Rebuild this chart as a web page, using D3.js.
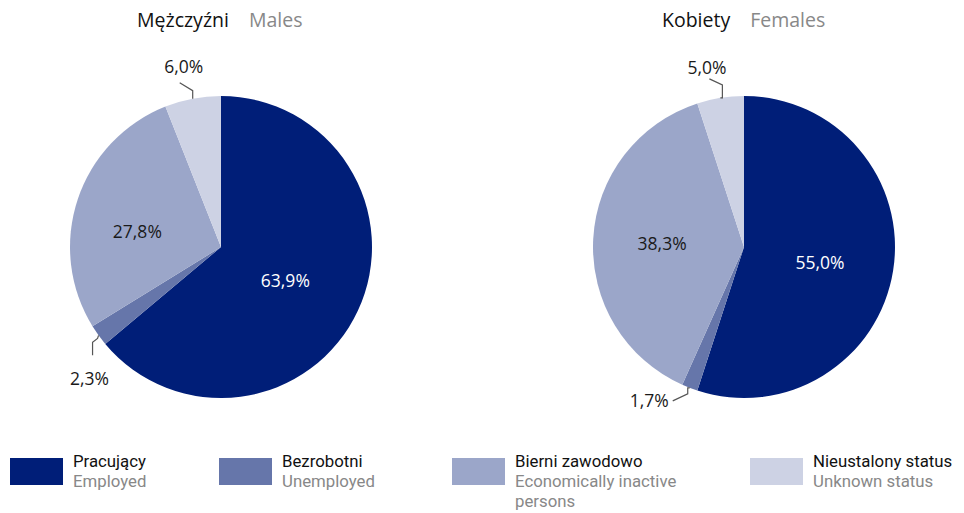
<!DOCTYPE html>
<html><head><meta charset="utf-8">
<script src="https://cdn.jsdelivr.net/npm/d3@7"></script>
<style>
body{margin:0;background:#fff;}
svg text{font-family:"Open Sans",sans-serif;}
svg text.leg{font-family:Roboto,sans-serif;}
</style></head>
<body><svg id="c" width="964" height="513"></svg>
<script>
const categoriesPl = ["Pracujący","Bezrobotni","Bierni zawodowo","Nieustalony status"];
const categoriesEn = ["Employed","Unemployed","Economically inactive persons","Unknown status"];
const malesValues = [63.9, 2.3, 27.8, 6.0];
const femalesValues = [55.0, 1.7, 38.3, 5.0];
const chartTitlesPl = ["Mężczyźni","Kobiety"];
const chartTitlesEn = ["Males","Females"];
const colors = ["#001E78","#6676AA","#9BA6C9","#CDD2E4"];

const svg = d3.select("#c");
const R = 151;
const fmt = v => v.toFixed(1).replace(".", ",") + "%";
const color = d3.scaleOrdinal().domain(categoriesPl).range(colors);
const pie = d3.pie().sort(null).value(d => d.v);
const arc = d3.arc().innerRadius(0).outerRadius(R);
const PF = 17.5;

// label placement styles: inside labels (radius + shift), leader labels (elbow path + text offset)
const charts = [
  {cx:221, cy:247, vals:malesValues, title:0, tx:137,
   inside:{0:{r:71, dx:0, dy:4}, 2:{r:85, dx:-3, dy:12}},
   leader:{1:{path:[[-1,3],[-6,7],[-6,20]], tdx:-9, tdy:43}, 3:{path:[[0,-8],[-13,-16]], tdx:-9, tdy:-31.5}}},
  {cx:744, cy:247, vals:femalesValues, title:1, tx:662,
   inside:{0:{r:77, dx:0, dy:4}, 2:{r:82, dx:0, dy:1}},
   leader:{1:{path:[[-2,0],[-2,6],[-17,13]], tdx:-40.5, tdy:13}, 3:{path:[[2,0],[2,-13],[-11,-19]], tdx:-13.5, tdy:-30}}}
];

charts.forEach(ch => {
  const g = svg.append("g").attr("transform", `translate(${ch.cx},${ch.cy})`);
  const data = categoriesPl.map((c,i) => ({c, v: ch.vals[i], i}));
  const arcs = pie(data);
  g.selectAll("path.s").data(arcs).join("path").attr("class","s")
    .attr("d", arc).attr("fill", d => color(d.data.c));
  arcs.forEach(a => {
    const mid = (a.startAngle + a.endAngle)/2;
    const i = a.data.i;
    let x, y;
    if (ch.leader[i]) {
      const px = Math.sin(mid)*R, py = -Math.cos(mid)*R;
      const L = ch.leader[i];
      const pts = [[px,py]].concat(L.path.map(p => [px+p[0], py+p[1]]));
      g.append("path").attr("d", d3.line()(pts)).attr("fill","none")
        .attr("stroke","#555").attr("stroke-width",1.2);
      x = px + L.tdx; y = py + L.tdy;
    } else {
      const s = ch.inside[i];
      x = Math.sin(mid)*s.r + s.dx; y = -Math.cos(mid)*s.r + s.dy;
    }
    g.append("text").attr("x", x).attr("y", y + PF*0.357)
      .attr("text-anchor","middle")
      .attr("font-size",PF).attr("fill", i===0 ? "#fff" : "#1a1a1a").text(fmt(a.data.v));
  });
  const t = svg.append("text").attr("x", ch.tx).attr("y", 27).attr("font-size",19.5);
  t.append("tspan").attr("fill","#111").text(chartTitlesPl[ch.title]);
  t.append("tspan").attr("fill","#888").attr("dx",20).text(chartTitlesEn[ch.title]);
});

// legend
const legX = [10, 219, 452, 750];
const wrapEn = [["Employed"],["Unemployed"],["Economically inactive","persons"],["Unknown status"]];
categoriesPl.forEach((c,i) => {
  const lg = svg.append("g").attr("transform", `translate(${legX[i]},0)`);
  lg.append("rect").attr("x",0).attr("y",458).attr("width",53).attr("height",27).attr("fill", color(c));
  const t = lg.append("text").attr("class","leg").attr("x",63).attr("y",467).attr("font-size",16.8);
  t.append("tspan").attr("x",63).attr("fill","#111").text(c);
  wrapEn[i].forEach(line => {
    t.append("tspan").attr("x",63).attr("dy",20).attr("fill","#888").text(line);
  });
});
</script></body></html>
